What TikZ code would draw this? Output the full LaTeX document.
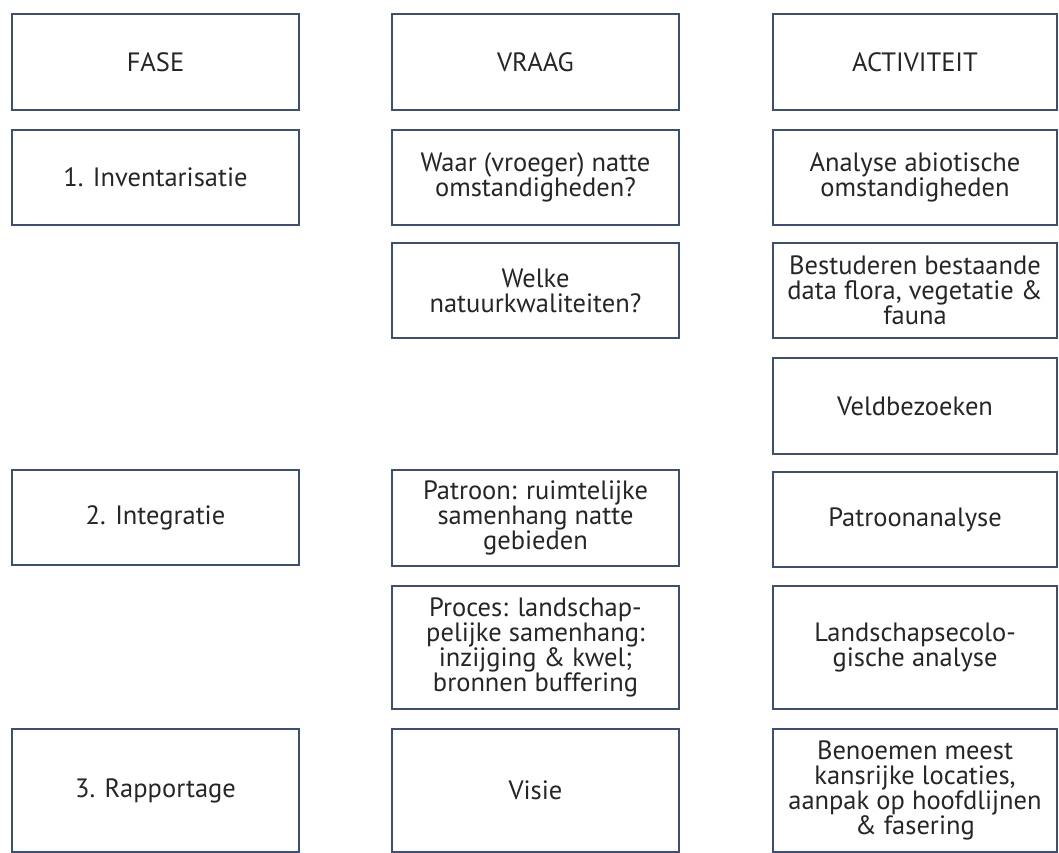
\documentclass[tikz,border=0pt]{standalone}
\usepackage{fontspec}
\setmainfont{PT Sans}
\definecolor{boxline}{HTML}{3B4F78}
\definecolor{txt}{HTML}{262626}
\begin{document}
\begin{tikzpicture}[x=1pt,y=-1pt,
  cell/.style={draw=boxline,line width=2.6pt,fill=white,text=txt,align=center,
    font=\fontsize{26.5}{25}\selectfont,inner sep=0pt,outer sep=0pt}]
\useasboundingbox[fill=white] (0,0) rectangle (1059,853);
\newcommand{\cellnode}[6]{%
  \node[cell,minimum width={#4-#2},minimum height={#5-#3}] (#1) at ({(#2+#4)/2},{(#3+#5)/2}) {#6};}
\cellnode{fase}{12}{14}{299}{110}{FASE}
\cellnode{vraag}{392}{14}{679}{110}{VRAAG}
\cellnode{act}{773}{14}{1057}{110}{ACTIVITEIT}
\cellnode{inv}{12}{130}{299}{225}{1. Inventarisatie}
\cellnode{waar}{392}{130}{679}{225}{Waar (vroeger) natte\\omstandigheden?}
\cellnode{abio}{773}{130}{1057}{225}{Analyse abiotische\\omstandigheden}
\cellnode{welke}{392}{243}{679}{338}{Welke\\natuurkwaliteiten?}
\cellnode{best}{773}{243}{1057}{338}{Bestuderen bestaande\\data flora, vegetatie \&\\fauna}
\cellnode{veld}{773}{358}{1057}{454}{Veldbezoeken}
\cellnode{integ}{12}{470}{299}{565}{2. Integratie}
\cellnode{patr}{392}{470}{679}{566}{Patroon: ruimtelijke\\samenhang natte\\gebieden}
\cellnode{patra}{773}{472}{1057}{567}{Patroonanalyse}
\cellnode{proc}{392}{586}{679}{709}{Proces: landschap-\\pelijke samenhang:\\inzijging \& kwel;\\bronnen buffering}
\cellnode{lands}{773}{586}{1057}{709}{Landschapsecolo-\\gische analyse}
\cellnode{rapp}{12}{729}{299}{852}{3. Rapportage}
\cellnode{visie}{392}{729}{679}{852}{Visie}
\cellnode{benoe}{773}{729}{1057}{852}{Benoemen meest\\kansrijke locaties,\\aanpak op hoofdlijnen\\\& fasering}
\end{tikzpicture}
\end{document}
